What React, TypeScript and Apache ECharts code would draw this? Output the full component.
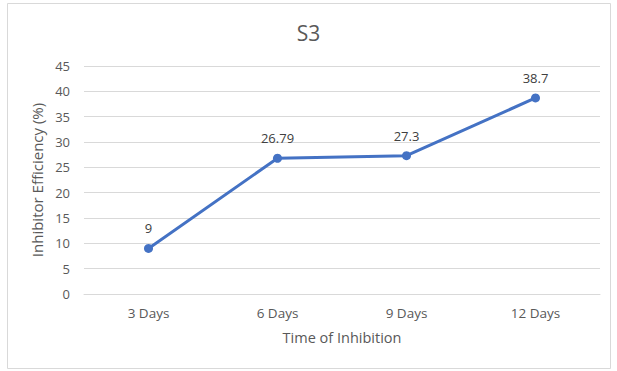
import React, { useEffect, useRef } from "react";
import * as echarts from "echarts";

const categories = ["3 Days", "6 Days", "9 Days", "12 Days"];
const values = [9, 26.79, 27.3, 38.7];
const valueLabels = ["9", "26.79", "27.3", "38.7"];
const chartTitle = "S3";
const xName = "Time of Inhibition";
const yName = "Inhibitor Efficiency (%)";

const FONT = "'Open Sans', 'Noto Sans', sans-serif";

export default function App() {
  const ref = useRef<HTMLDivElement>(null);
  useEffect(() => {
    if (!ref.current) return;
    const chart = echarts.init(ref.current, undefined, { renderer: "svg" });
    chart.setOption({
      animation: false,
      backgroundColor: "#ffffff",
      textStyle: { fontFamily: FONT },
      title: {
        text: chartTitle,
        left: "center",
        top: 17,
        textStyle: { fontFamily: FONT, fontSize: 21, fontWeight: "normal", color: "#595959" },
      },
      graphic: [
        {
          type: "rect",
          shape: { x: 7.5, y: 3.5, width: 603, height: 365 },
          style: { fill: "none", stroke: "#d9d9d9", lineWidth: 1 },
          silent: true,
        },
      ],
      grid: { left: 84, right: 17, top: 66, bottom: 77 },
      xAxis: {
        type: "category",
        data: categories,
        boundaryGap: true,
        name: xName,
        nameLocation: "middle",
        nameGap: 36,
        nameTextStyle: { fontFamily: FONT, fontSize: 14.5, color: "#595959" },
        axisLine: { show: true, lineStyle: { color: "#d9d9d9", width: 1 } },
        axisTick: { show: false },
        axisLabel: { fontFamily: FONT, fontSize: 13.5, color: "#595959", margin: 12 },
      },
      yAxis: {
        type: "value",
        min: 0,
        max: 45,
        interval: 5,
        name: yName,
        nameLocation: "middle",
        nameGap: 34,
        nameTextStyle: { fontFamily: FONT, fontSize: 15, color: "#595959" },
        axisLine: { show: false },
        axisTick: { show: false },
        axisLabel: { fontFamily: FONT, fontSize: 13, color: "#595959", margin: 14 },
        splitLine: { lineStyle: { color: "#d9d9d9", width: 1 } },
      },
      series: [
        {
          type: "line",
          data: values,
          symbol: "circle",
          symbolSize: 9,
          lineStyle: { color: "#4472C4", width: 3 },
          itemStyle: { color: "#4472C4" },
          label: {
            show: true,
            position: "top",
            distance: 9,
            fontFamily: FONT,
            fontSize: 13,
            color: "#404040",
            formatter: (p: any) => valueLabels[p.dataIndex],
          },
        },
      ],
    });
    return () => chart.dispose();
  }, []);
  return (
    <div
      ref={ref}
      style={{ position: "fixed", left: 0, top: 0, width: 617, height: 371, background: "#fff" }}
    />
  );
}
